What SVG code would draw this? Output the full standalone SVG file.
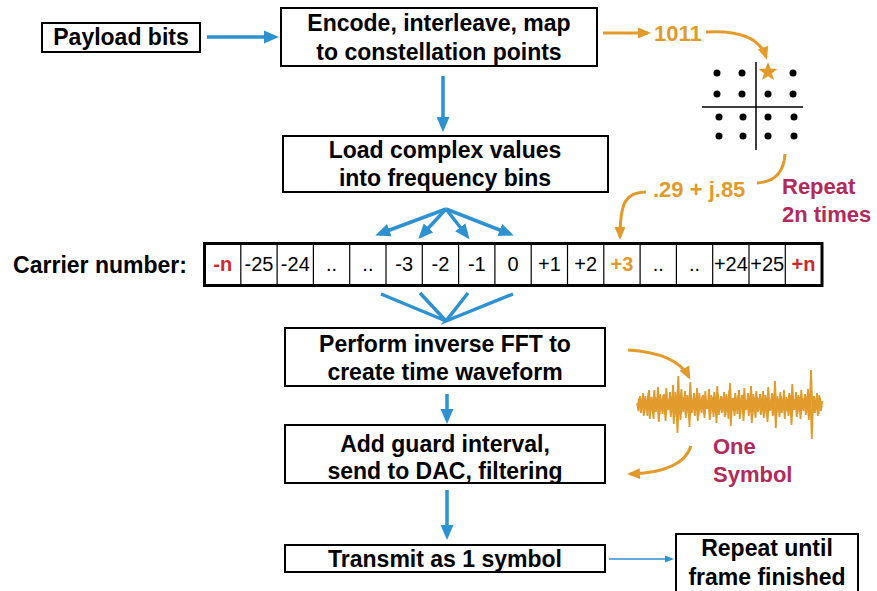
<svg xmlns="http://www.w3.org/2000/svg" width="877" height="591" viewBox="0 0 877 591">
<defs>
<style>
.box{fill:#fff;stroke:#000;stroke-width:2}
.t{font-family:"Liberation Sans",Arial,sans-serif;font-weight:bold;font-size:23px;fill:#000;text-anchor:middle}
.c{font-family:"Liberation Sans",Arial,sans-serif;font-size:20px;fill:#000;text-anchor:middle}
.cb{font-weight:bold}
.or{fill:#E29A2B}
.rd{fill:#D0282E}
.cr{font-family:"Liberation Sans",Arial,sans-serif;font-weight:bold;font-size:22px;fill:#B22A5C}
.ot{font-family:"Liberation Sans",Arial,sans-serif;font-weight:bold;font-size:22px;fill:#E29A2B}
.bl{stroke:#2E91D2;stroke-width:3.5;fill:none}
.blt{stroke:#2E91D2;stroke-width:1.5;fill:none}
.ol{stroke:#E29A2B;stroke-width:3;fill:none}
.dot{fill:#000}
</style>
<marker id="ab" markerUnits="userSpaceOnUse" markerWidth="15" markerHeight="14" refX="11" refY="7" orient="auto"><path d="M0,0.5 L15,7 L0,13.5 z" fill="#2E91D2"/></marker>
<marker id="abs" markerUnits="userSpaceOnUse" markerWidth="9" markerHeight="9" refX="7" refY="4.5" orient="auto"><path d="M0,1 L9,4.5 L0,8 z" fill="#2E91D2"/></marker>
<marker id="ao" markerUnits="userSpaceOnUse" markerWidth="13" markerHeight="13" refX="10" refY="6.5" orient="auto"><path d="M0,1 L13,6.5 L0,12 z" fill="#E29A2B"/></marker>
</defs>
<rect width="877" height="591" fill="#fff"/>

<g id="payload">
<rect class="box" x="42" y="23" width="158" height="29"/>
<text class="t" x="121" y="45">Payload bits</text>
</g>

<g id="encode">
<rect class="box" x="281" y="8" width="316" height="58"/>
<text class="t" x="439" y="31">Encode, interleave, map</text>
<text class="t" x="439" y="60">to constellation points</text>
</g>

<g id="load">
<rect class="box" x="283" y="136" width="325" height="56"/>
<text class="t" x="445" y="158">Load complex values</text>
<text class="t" x="445" y="186">into frequency bins</text>
</g>

<g id="carriers">
<text class="t" x="100" y="273">Carrier number:</text>
<rect x="204.5" y="243.5" width="617.5" height="42" fill="#fff" stroke="#000" stroke-width="3"/>
<g stroke="#000" stroke-width="1.2">
<line x1="240.8" y1="244" x2="240.8" y2="285"/><line x1="277.1" y1="244" x2="277.1" y2="285"/>
<line x1="313.4" y1="244" x2="313.4" y2="285"/><line x1="349.7" y1="244" x2="349.7" y2="285"/>
<line x1="386" y1="244" x2="386" y2="285"/><line x1="422.3" y1="244" x2="422.3" y2="285"/>
<line x1="458.6" y1="244" x2="458.6" y2="285"/><line x1="494.9" y1="244" x2="494.9" y2="285"/>
<line x1="531.2" y1="244" x2="531.2" y2="285"/><line x1="567.5" y1="244" x2="567.5" y2="285"/>
<line x1="603.8" y1="244" x2="603.8" y2="285"/><line x1="640.1" y1="244" x2="640.1" y2="285"/>
<line x1="676.4" y1="244" x2="676.4" y2="285"/><line x1="712.7" y1="244" x2="712.7" y2="285"/>
<line x1="749" y1="244" x2="749" y2="285"/><line x1="785.3" y1="244" x2="785.3" y2="285"/>
</g>
<text class="c cb rd" x="222.7" y="271">-n</text>
<text class="c" x="259" y="271">-25</text>
<text class="c" x="295.3" y="271">-24</text>
<text class="c" x="331.6" y="271">..</text>
<text class="c" x="367.9" y="271">..</text>
<text class="c" x="404.2" y="271">-3</text>
<text class="c" x="440.5" y="271">-2</text>
<text class="c" x="476.8" y="271">-1</text>
<text class="c" x="513.1" y="271">0</text>
<text class="c" x="549.4" y="271">+1</text>
<text class="c" x="585.7" y="271">+2</text>
<text class="c cb or" x="622" y="271">+3</text>
<text class="c" x="658.3" y="271">..</text>
<text class="c" x="694.6" y="271">..</text>
<text class="c" x="730.9" y="271">+24</text>
<text class="c" x="767.2" y="271">+25</text>
<text class="c cb rd" x="803.5" y="271">+n</text>
</g>

<g id="ifft">
<rect class="box" x="285" y="328" width="320" height="58"/>
<text class="t" x="445" y="352">Perform inverse FFT to</text>
<text class="t" x="445" y="380">create time waveform</text>
</g>

<g id="guard">
<rect class="box" x="285" y="425" width="320" height="58"/>
<text class="t" x="445" y="452">Add guard interval,</text>
<text class="t" x="445" y="479">send to DAC, filtering</text>
</g>

<g id="transmit">
<rect class="box" x="285" y="545" width="320" height="27"/>
<text class="t" x="445" y="567">Transmit as 1 symbol</text>
</g>

<g id="repeat">
<rect class="box" x="676" y="534" width="182" height="60"/>
<text class="t" x="767" y="556">Repeat until</text>
<text class="t" x="767" y="585">frame finished</text>
</g>

<g id="constellation">
<line x1="756" y1="62" x2="756" y2="150" stroke="#000" stroke-width="1.5"/>
<line x1="702" y1="107" x2="803" y2="107" stroke="#000" stroke-width="1.5"/>
<circle class="dot" cx="717" cy="73" r="3.5"/><circle class="dot" cx="742" cy="73" r="3.5"/><circle class="dot" cx="793" cy="73" r="3.5"/>
<circle class="dot" cx="717" cy="94" r="3.5"/><circle class="dot" cx="742" cy="94" r="3.5"/><circle class="dot" cx="768" cy="94" r="3.5"/><circle class="dot" cx="793" cy="94" r="3.5"/>
<circle class="dot" cx="719" cy="117" r="3.5"/><circle class="dot" cx="743" cy="117" r="3.5"/><circle class="dot" cx="768" cy="117" r="3.5"/><circle class="dot" cx="794" cy="117" r="3.5"/>
<circle class="dot" cx="719" cy="136" r="3.5"/><circle class="dot" cx="743" cy="136" r="3.5"/><circle class="dot" cx="768" cy="136" r="3.5"/><circle class="dot" cx="794" cy="136" r="3.5"/>
<polygon points="768,62 770.5,68.6 777.5,68.9 772,73.3 773.9,80.1 768,76.2 762.1,80.1 764,73.3 758.5,68.9 765.5,68.6" fill="#E29A2B"/>
</g>

<g id="labels">
<text class="ot" x="654" y="41">1011</text>
<text class="ot" x="653" y="197">.29 + j.85</text>
<text class="cr" x="782" y="194">Repeat</text>
<text class="cr" x="782" y="222">2n times</text>
<text class="cr" x="713" y="454">One</text>
<text class="cr" x="713" y="482">Symbol</text>
</g>

<g id="waveform" fill="none" stroke="#E29A2B" stroke-width="1.8" stroke-linejoin="bevel">
<polyline id="wv" points="637,403 638.5,411 640,396 641.5,409 643,393 644.5,413 646,400 647.5,416 649,390 650.5,412 652,402 653.5,419 655,397 656.5,408 658,387 659.5,415 661,399 662.5,414 664,394 665.5,421 667,401 668.5,410 670,392 671.5,413 673,385 674.5,417 676,398 677.5,433 679,395 680.5,420 682,402 683.5,412 685,391 686.5,414 688,399 689.5,427 691,396 692.5,410 694,393 695.5,411 697,388 698.5,416 700,401 701.5,413 703,395 704.5,418 706,400 707.5,408 709,389 710.5,414 712,397 713.5,417 715,399 716.5,423 718,394 719.5,409 721,396 722.5,412 724,392 725.5,415 727,400 728.5,419 730,383 731.5,411 733,398 734.5,416 736,402 737.5,414 739,390 740.5,410 742,395 743.5,421 745,399 746.5,409 748,393 749.5,413 751,386 752.5,415 754,401 755.5,418 757,397 758.5,411 760,394 761.5,408 763,391 764.5,414 766,400 767.5,422 769,398 770.5,410 772,393 773.5,415 775,381 776.5,413 778,399 779.5,417 781,396 782.5,409 784,390 785.5,412 787,402 788.5,416 790,395 791.5,425 793,399 794.5,410 796,392 797.5,414 799,397 800.5,419 802,401 803.5,411 805,394 806.5,413 808,389 809.5,415 811,370 812.5,412 814,396 815.5,409 817,393 818.5,414 820,398 821.5,408"/>
<use href="#wv" transform="translate(0.8,809) scale(1,-1)"/>
</g>

<g id="connectors">
<line class="bl" x1="207" y1="37" x2="275" y2="37" marker-end="url(#ab)"/>
<line class="bl" x1="443" y1="76" x2="443" y2="128" marker-end="url(#ab)"/>
<line class="bl" x1="446" y1="209" x2="379" y2="234" marker-end="url(#ab)"/>
<line class="bl" x1="446" y1="209" x2="421" y2="236" marker-end="url(#ab)"/>
<line class="bl" x1="446" y1="209" x2="467" y2="236" marker-end="url(#ab)"/>
<line class="bl" x1="446" y1="209" x2="510" y2="234" marker-end="url(#ab)"/>
<polyline class="bl" points="381,294 446,321 420,293"/>
<polyline class="bl" points="468,293 446,321 513,294"/>
<line class="bl" x1="447" y1="394" x2="447" y2="420" marker-end="url(#ab)"/>
<line class="bl" x1="447" y1="490" x2="447" y2="536" marker-end="url(#ab)"/>
<line class="blt" x1="609" y1="559" x2="672" y2="559" marker-end="url(#abs)"/>
<line class="ol" x1="603" y1="33" x2="648" y2="33" marker-end="url(#ao)"/>
<path class="ol" d="M706,32 C740,30 760,38 766,57" marker-end="url(#ao)"/>
<path class="ol" d="M785,154 C784,172 775,182 757,183"/>
<path class="ol" d="M646,192 C626,192 620,202 620,237" marker-end="url(#ao)"/>
<path class="ol" d="M628,350 C660,352 680,360 689,377" marker-end="url(#ao)"/>
<path class="ol" d="M691,446 C685,465 662,473 630,474" marker-end="url(#ao)"/>
</g>
</svg>
